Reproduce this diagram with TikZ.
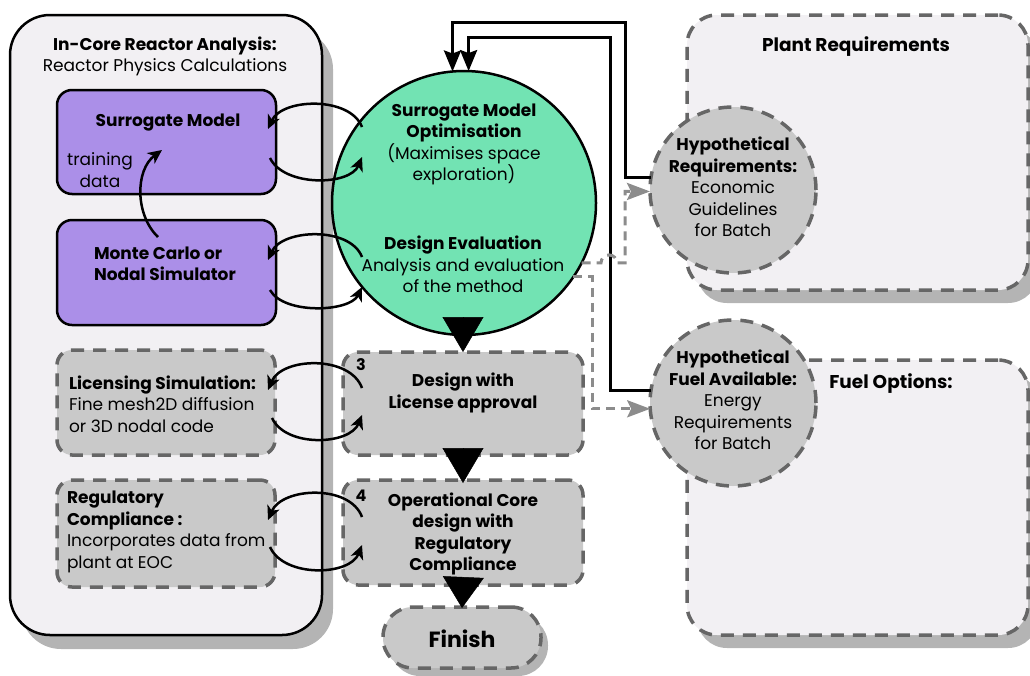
\documentclass[tikz,border=0pt]{standalone}
\usepackage{fontspec}
\setmainfont{Poppins}
\usetikzlibrary{arrows.meta,backgrounds}

\definecolor{panelfill}{HTML}{F2F0F3}
\definecolor{shadowgray}{HTML}{B4B4B4}
\definecolor{lavender}{HTML}{AB8FE8}
\definecolor{mint}{HTML}{72E3B3}
\definecolor{boxgray}{HTML}{C9C9C9}
\definecolor{dashgray}{HTML}{666666}
\definecolor{linkgray}{HTML}{8C8C8C}

\begin{document}
\begin{tikzpicture}[x=1pt,y=1pt,
  every node/.style={inner sep=0pt, outer sep=0pt, font=\fontsize{17}{21.5}\selectfont},
  boldtext/.style={font=\fontsize{17}{21.5}\selectfont\bfseries},
  headtext/.style={font=\fontsize{18.5}{22}\selectfont\bfseries},
  panel/.style={draw=black, line width=2.5pt, fill=panelfill, rounded corners=40pt},
  purplebox/.style={draw=black, line width=2.5pt, fill=lavender, rounded corners=15pt},
  dashbox/.style={draw=dashgray, line width=3.5pt, dash pattern=on 13pt off 9pt, fill=boxgray, rounded corners=15pt},
  dashpanel/.style={draw=dashgray, line width=3.5pt, dash pattern=on 13pt off 9pt, fill=panelfill, rounded corners=30pt},
  dashdisc/.style={circle, draw=dashgray, line width=3.5pt, dash pattern=on 13pt off 9pt, fill=boxgray, minimum size=166pt},
  shadowfill/.style={fill=shadowgray},
  cyc/.style={draw=black, line width=2.5pt, -{Stealth[length=14pt,width=13pt,inset=4pt]}},
  flowtip/.style={draw=black, line width=0.5pt, -{Triangle[length=#1,width=41pt]}},
  flowtip/.default=35pt,
  link/.style={draw=black, line width=3pt, -{Stealth[length=21pt,width=17pt,inset=3pt]}},
  glink/.style={draw=linkgray, line width=3pt, dash pattern=on 9pt off 6pt, -{Stealth[length=23pt,width=17pt,inset=4pt]}},
  bnum/.style={font=\fontsize{16}{18}\selectfont\bfseries}
]
\useasboundingbox (0,0) rectangle (1030,-675);
\clip (0,0) rectangle (1030,-675);

% left column: in-core analysis
\node[panel, minimum width=312pt, minimum height=620pt] (core) at (166,-325) {};
\node[align=center] (coretitle) at (165,-56.5) {\textbf{In-Core Reactor Analysis:}\\Reactor Physics Calculations};

\node[purplebox, minimum width=219pt, minimum height=104pt] (sm) at (166.5,-142) {};
\node[boldtext] (smtext) at (168,-122.5) {Surrogate Model};
\node[align=center] (train) at (100,-170) {training\\data};

\node[purplebox, minimum width=219pt, minimum height=105pt] (mc) at (166.5,-272.5) {};
\node[align=left, anchor=west, font=\fontsize{17}{20.5}\selectfont\bfseries] (mctext) at (94,-264) {Monte Carlo or\\Nodal Simulator};

\node[dashbox, minimum width=218pt, minimum height=105pt] (lic) at (166,-402.5) {};
\node[align=left, anchor=west] (lictext) at (69,-404) {\textbf{Licensing Simulation:}\\Fine mesh2D diffusion\\or 3D nodal code};

\node[dashbox, minimum width=218pt, minimum height=107pt] (reg) at (166,-533.5) {};
\node[align=left, anchor=west] (regtext) at (67,-532) {\textbf{Regulatory}\\\textbf{Compliance :}\\Incorporates data from\\plant at EOC};

% middle column: optimisation loop and design stages
\node[circle, draw=black, line width=2.5pt, fill=mint, minimum size=264pt] (circ) at (464,-203) {};
\node[align=center] (opt) at (464,-144.5) {\textbf{Surrogate Model}\\\textbf{Optimisation}\\(Maximises space\\exploration)};
\node[align=center] (eval) at (463,-264.5) {\textbf{Design Evaluation}\\Analysis and evaluation\\of the method};

\node[dashbox, minimum width=240pt, minimum height=103pt] (d3) at (463,-403.5) {};
\node[align=center, boldtext] (d3text) at (463,-393) {Design with\\License approval};
\node[bnum] (n3) at (361,-364.5) {3};

\node[dashbox, minimum width=240pt, minimum height=105pt] (d4) at (463,-532.5) {};
\node[align=center, boldtext] (d4text) at (463,-534) {Operational Core\\design with\\Regulatory\\Compliance};
\node[bnum] (n4) at (361,-495.5) {4};

\node[dashbox, rounded corners=30pt, minimum width=158pt, minimum height=61pt] (fin) at (462,-637.5) {};
\node[font=\fontsize{22}{24}\selectfont\bfseries] (fintext) at (462,-638.5) {Finish};

% right column: plant and fuel inputs
\node[dashpanel, minimum width=341pt, minimum height=275pt] (plant) at (857.5,-152.5) {};
\node[headtext] (planttitle) at (856,-47) {Plant Requirements};

\node[dashpanel, minimum width=341pt, minimum height=275pt] (fuel) at (857.5,-497.5) {};
\node[headtext] (fueltitle) at (891,-384) {Fuel Options:};

\node[dashdisc] (hreq) at (733,-190) {};
\node[align=center] (hreqtext) at (733,-187) {\textbf{Hypothetical}\\\textbf{Requirements:}\\Economic\\Guidelines\\for Batch};
\node[dashdisc] (hfuel) at (733,-403) {};
\node[align=center] (hfueltext) at (733,-400) {\textbf{Hypothetical}\\\textbf{Fuel Available:}\\Energy\\Requirements\\for Batch};

% drop shadows behind the panels and the finish pill
\begin{pgfonlayer}{background}
\fill[shadowfill, rounded corners=40pt] ([shift={(11pt,-14pt)}]core.south west) rectangle ([shift={(11pt,-14pt)}]core.north east);
\fill[shadowfill, rounded corners=30pt] ([shift={(10pt,-13pt)}]plant.south west) rectangle ([shift={(10pt,-13pt)}]plant.north east);
\fill[shadowfill, rounded corners=30pt] ([shift={(10pt,-13pt)}]fuel.south west) rectangle ([shift={(10pt,-13pt)}]fuel.north east);
\fill[shadowfill, rounded corners=30pt] ([shift={(7pt,-8pt)}]fin.south west) rectangle ([shift={(7pt,-8pt)}]fin.north east);
\end{pgfonlayer}

% black feedback links into the optimiser
\coordinate (outertop) at (625,-22);
\coordinate (innertop) at (610,-37);
\draw[link] (hreq.171) -| (outertop) -| (circ.95);
\draw[link] (hfuel.171) -| (innertop) -| (circ.88.5);

% gray dashed feeds from the evaluation stage, hopping over the black line
\draw[glink] (circ.-27) -- ++(19.4,0) arc[start angle=180, end angle=0, radius=8pt] -- ++(8,0) |- (hreq.181);
\draw[glink] (circ.-34.6) -- ++(19,0) |- (hfuel.184);

% exchange loops between the two columns
\draw[cyc] ([xshift=-102pt, yshift=76pt]circ.center) .. controls +(-12,31) and +(14,31) .. ([xshift=-8pt, yshift=13pt]sm.east);
\draw[cyc] ([xshift=-6pt, yshift=-16pt]sm.east) .. controls +(14,-29) and +(-12,-29) .. ([xshift=-102pt, yshift=46pt]circ.center);
\draw[cyc] ([xshift=-102pt, yshift=-54pt]circ.center) .. controls +(-12,31) and +(14,31) .. ([xshift=-8pt, yshift=12.5pt]mc.east);
\draw[cyc] ([xshift=-6pt, yshift=-17.5pt]mc.east) .. controls +(14,-25) and +(-12,-25) .. ([xshift=-102pt, yshift=-84pt]circ.center);
\draw[cyc] ([xshift=19pt, yshift=15.5pt]d3.west) .. controls +(-12,33) and +(14,33) .. ([xshift=-7pt, yshift=12.5pt]lic.east);
\draw[cyc] ([xshift=-3pt, yshift=-15.5pt]lic.east) .. controls +(14,-30) and +(-12,-30) .. ([xshift=19pt, yshift=-11.5pt]d3.west);
\draw[cyc] ([xshift=19pt, yshift=15.5pt]d4.west) .. controls +(-12,33) and +(14,33) .. ([xshift=-7pt, yshift=13.5pt]reg.east);
\draw[cyc] ([xshift=-5pt, yshift=-13.5pt]reg.east) .. controls +(14,-31) and +(-12,-31) .. ([xshift=19pt, yshift=-12.5pt]d4.west);

% training data from simulator to surrogate
\draw[cyc] ([xshift=-8.5pt, yshift=-17pt]mc.north) .. controls +(-23,22) and +(-27,-20) .. ([xshift=-4.5pt, yshift=44pt]sm.south);

% main flow
\draw[flowtip] (d3.north |- circ.south) -- (d3.north);
\draw[flowtip] (d3.south) -- ([yshift=-3pt]d4.north);
\draw[flowtip=31pt] (d4.south) -- ([yshift=-1pt]fin.north);
\end{tikzpicture}
\end{document}
